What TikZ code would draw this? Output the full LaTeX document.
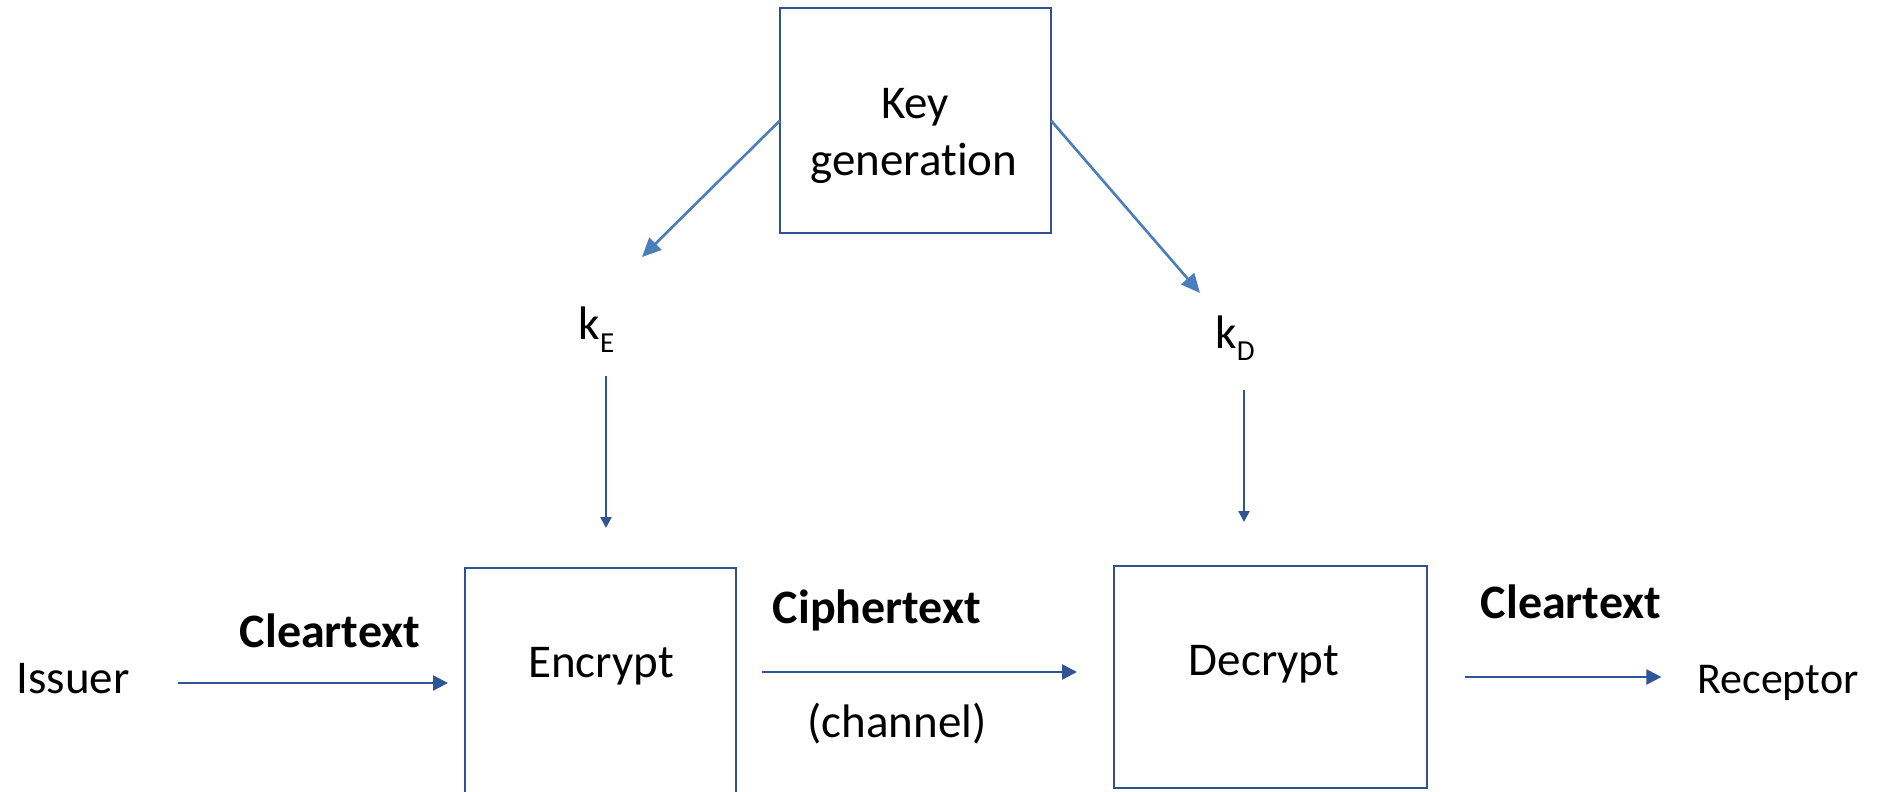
\documentclass[tikz,border=0pt]{standalone}
\usepackage{fontspec}
\setmainfont{Carlito}[Ligatures={NoCommon}]
\usetikzlibrary{arrows.meta}
\definecolor{boxblue}{HTML}{2F528F}
\definecolor{arrblue}{HTML}{2F5597}
\definecolor{keyblue}{HTML}{4A7EBB}
\begin{document}
\begin{tikzpicture}[x=1pt,y=-1pt,
  blockbox/.style={draw=boxblue, line width=2.2pt, inner sep=0pt, outer sep=0pt},
  lbl/.style={font=\fontsize{47}{56}\selectfont, inner sep=0pt, outer sep=0pt, anchor=base, text height=30pt, text depth=10pt},
  blbl/.style={lbl, font=\fontsize{48}{56}\selectfont\bfseries},
  harrow/.style={draw=arrblue, line width=2.4pt, -{Triangle[length=15pt,width=15pt]}},
  varrow/.style={draw=arrblue, line width=2.4pt, -{Triangle[length=11pt,width=11pt]}},
  karrow/.style={draw=keyblue, line width=2.6pt, -{Triangle[length=19pt,width=17pt]}}
]
\clip (0,0) rectangle (1893,792);
\fill[white] (0,0) rectangle (1893,792);

% boxes
\node[blockbox, minimum width=271pt, minimum height=225pt] (keygen) at (915.5,120.5) {};
\node[blockbox, minimum width=271pt, minimum height=240pt] (encrypt) at (600.5,688) {};
\node[blockbox, minimum width=313pt, minimum height=222pt] (decrypt) at (1270.5,677) {};

% box texts
\node[lbl] (keytxt) at (915,118) {Key};
\node[lbl] (gentxt) at (914,175) {generation};
\node[lbl] (enctxt) at (601,677) {Encrypt};
\node[lbl] (dectxt) at (1264,675) {Decrypt};

% end points
\node[lbl] (issuer) at (73,693) {Issuer};
\node[lbl, font=\fontsize{44}{54}\selectfont] (receptor) at (1778,693) {Receptor};

% keys
\node[lbl] (kE) at (596.5,339) {k\raisebox{-13pt}{\fontsize{29}{32}\selectfont E}};
\node[lbl] (kD) at (1235,348) {k\raisebox{-12pt}{\fontsize{29}{32}\selectfont D}};

% edge labels
\node[blbl] (clear1) at (330,647) {Cleartext};
\node[blbl] (cipher) at (877,623) {Ciphertext};
\node[lbl] (channel) at (897,737) {(channel)};
\node[blbl] (clear2) at (1571,618) {Cleartext};

% key generation arrows
\coordinate (kEtip) at (642,257);
\coordinate (kDtip) at (1200,293);
\draw[karrow] (keygen.west) -- (kEtip);
\draw[karrow] (keygen.east) -- (kDtip);

% key inputs
\draw[varrow, shorten <=27pt, shorten >=40pt] ([xshift=9.5pt]kE.south) -- ([xshift=9.5pt]kE.south |- encrypt.north);
\draw[varrow, shorten <=32pt, shorten >=44pt] ([xshift=9pt]kD.south) -- ([xshift=9pt]kD.south |- decrypt.north);

% data flow
\draw[harrow, shorten <=48pt, shorten >=17pt] (issuer.east) -- (issuer.east -| encrypt.west);
\coordinate (cstart) at ([shift={(26,-16)}]encrypt.east);
\draw[harrow, shorten >=37pt] (cstart) -- (cstart -| decrypt.west);
\draw[harrow, shorten <=38pt, shorten >=36pt] (decrypt.east) -- (decrypt.east -| receptor.west);
\end{tikzpicture}
\end{document}
